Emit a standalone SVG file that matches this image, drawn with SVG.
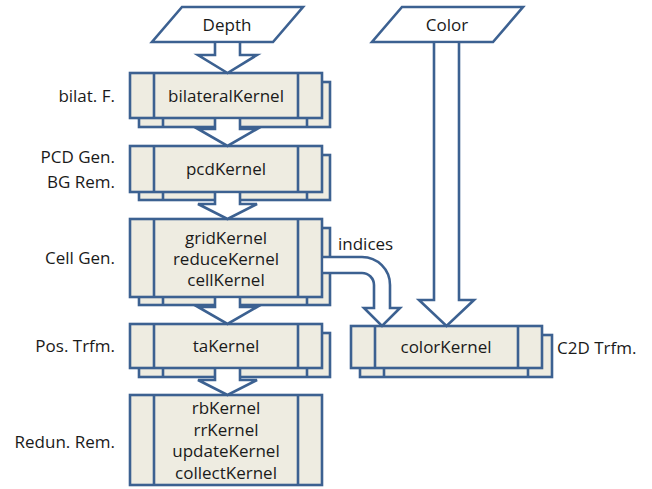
<svg xmlns="http://www.w3.org/2000/svg" width="652" height="489" viewBox="0 0 652 489">
<style>
.bx{fill:#EEECE1;stroke:#3C6191;stroke-width:2.6}
.ln{fill:none;stroke:#3C6191;stroke-width:2.6}
.io{fill:#FFFFFF;stroke:#3C6191;stroke-width:2.6;stroke-linejoin:miter}
.af{fill:#FFFFFF;stroke:none}
.as{fill:none;stroke:#3C6191;stroke-width:2.6;stroke-linejoin:miter}
text{font-family:"Open Sans","Noto Sans","Liberation Sans",sans-serif;font-size:17px;fill:#1a1a1a}
.c{text-anchor:middle}
.r{text-anchor:end}
</style>
<rect width="652" height="489" fill="#FFFFFF"/>

<g id="depth">
<polygon class="io" points="182,7 303,7 273,42 152,42"/>
<text class="c" x="227" y="31">Depth</text>
</g>
<g id="color">
<polygon class="io" points="402,7 523,7 493,42 372,42"/>
<text class="c" x="447" y="31">Color</text>
</g>

<g id="bilateral">
<rect class="bx" x="139" y="82" width="191" height="45"/>
<path class="ln" d="M163,82V127M307,82V127"/>
<rect class="bx" x="130" y="73" width="192" height="45"/>
<path class="ln" d="M154,73V118M298,73V118"/>
<text class="c" x="226" y="102">bilateralKernel</text>
</g>

<g id="pcd">
<rect class="bx" x="139" y="155" width="191" height="45"/>
<path class="ln" d="M163,155V200M307,155V200"/>
<rect class="bx" x="130" y="146" width="192" height="46"/>
<path class="ln" d="M154,146V192M298,146V192"/>
<text class="c" x="226" y="175">pcdKernel</text>
</g>

<g id="cell">
<rect class="bx" x="139" y="228" width="191" height="77"/>
<path class="ln" d="M163,228V305M307,228V305"/>
<rect class="bx" x="130" y="219" width="192" height="78"/>
<path class="ln" d="M154,219V297M298,219V297"/>
<text class="c" x="226" y="244">gridKernel</text>
<text class="c" x="226" y="265">reduceKernel</text>
<text class="c" x="226" y="286">cellKernel</text>
</g>

<g id="ta">
<rect class="bx" x="139" y="333" width="191" height="44"/>
<path class="ln" d="M163,333V377M307,333V377"/>
<rect class="bx" x="130" y="324" width="192" height="44"/>
<path class="ln" d="M154,324V368M298,324V368"/>
<text class="c" x="226" y="352">taKernel</text>
</g>

<g id="redun">
<rect class="bx" x="130" y="395" width="192" height="90"/>
<path class="ln" d="M154,395V485M298,395V485"/>
<text class="c" x="226" y="414">rbKernel</text>
<text class="c" x="226" y="436">rrKernel</text>
<text class="c" x="226" y="457">updateKernel</text>
<text class="c" x="226" y="479">collectKernel</text>
</g>

<g id="colorKernel">
<rect class="bx" x="360" y="335" width="192" height="42"/>
<path class="ln" d="M384,335V377M528,335V377"/>
<rect class="bx" x="351" y="326" width="191" height="42"/>
<path class="ln" d="M375,326V368M518,326V368"/>
<text class="c" x="446" y="353">colorKernel</text>
</g>

<g id="connectors">
<path class="af" d="M215,43.5V55H198L227.5,73L257,55H240V43.5Z"/>
<path class="as" d="M215,42V55H198L227.5,73L257,55H240V42"/>
<path class="af" d="M215,119.5V129H198L227.5,146L257,129H240V119.5Z"/>
<path class="as" d="M215,118V129H198L227.5,146L257,129H240V118"/>
<path class="af" d="M215,193.5V204H198L227.5,219L257,204H240V193.5Z"/>
<path class="as" d="M215,192V204H198L227.5,219L257,204H240V192"/>
<path class="af" d="M215,298.5V307H198L227.5,324L257,307H240V298.5Z"/>
<path class="as" d="M215,297V307H198L227.5,324L257,307H240V297"/>
<path class="af" d="M215,369.5V380H198L227.5,395L257,380H240V369.5Z"/>
<path class="as" d="M215,368V380H198L227.5,395L257,380H240V368"/>
<path class="af" d="M434,43.5V300H419L446.5,326L474,300H459V43.5Z"/>
<path class="as" d="M434,42V300H419L446.5,326L474,300H459V42"/>
<path class="af" d="M323.5,257H362A28,28 0 0 1 390,285V308H400L382,326L364,308H374V285A12,12 0 0 0 362,273H323.5Z"/>
<path class="as" d="M322,257H362A28,28 0 0 1 390,285V308H400L382,326L364,308H374V285A12,12 0 0 0 362,273H322"/>
</g>

<g id="labels">
<text class="r" x="115" y="102">bilat. F.</text>
<text class="r" x="115" y="163">PCD Gen.</text>
<text class="r" x="115" y="188">BG Rem.</text>
<text class="r" x="115" y="264">Cell Gen.</text>
<text class="r" x="115" y="352">Pos. Trfm.</text>
<text class="r" x="115" y="448">Redun. Rem.</text>
<text x="338" y="250">indices</text>
<text x="557" y="354">C2D Trfm.</text>
</g>
</svg>
